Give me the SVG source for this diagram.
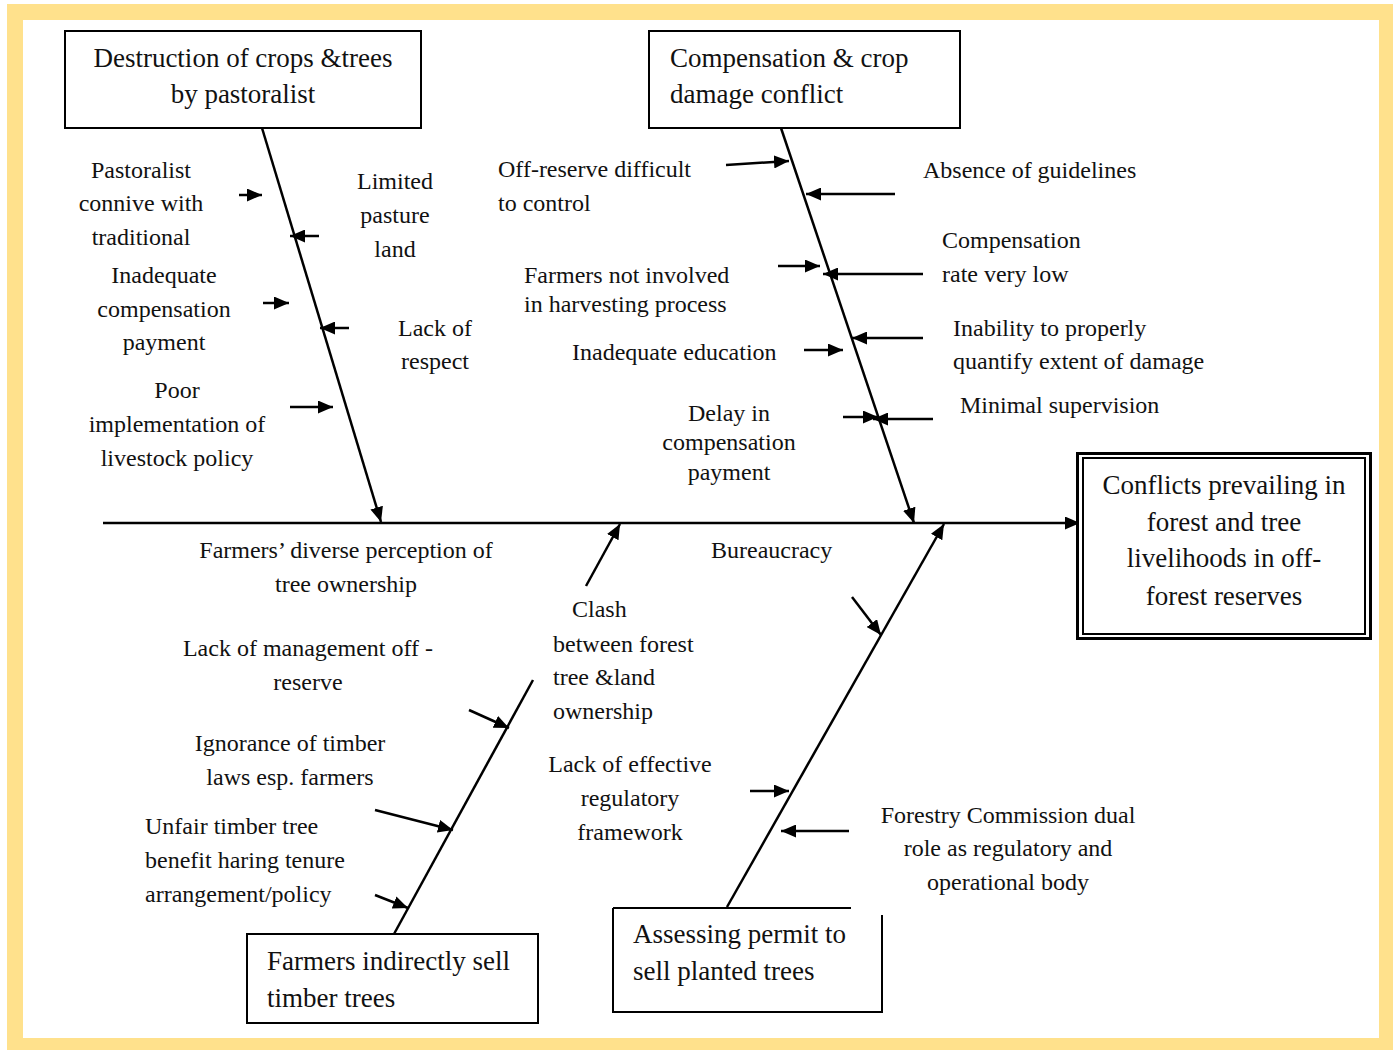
<svg xmlns="http://www.w3.org/2000/svg" width="1393" height="1050" viewBox="0 0 1393 1050">
<defs>
<marker id="ah" viewBox="0 0 15 13" refX="15" refY="6.5" markerWidth="15" markerHeight="13" markerUnits="userSpaceOnUse" orient="auto">
<path d="M0,0 L15,6.5 L0,13 z" fill="#000"/>
</marker>
<style>
.t{font-family:"Liberation Serif","Times New Roman",serif;font-size:24px;fill:#111}
.b{font-family:"Liberation Serif","Times New Roman",serif;font-size:27px;fill:#111}
.m{text-anchor:middle}
.box{fill:#fff;stroke:#000;stroke-width:2}
.ln{stroke:#000;stroke-width:2.5;fill:none}
.ar{stroke:#000;stroke-width:2.5;fill:none;marker-end:url(#ah)}
</style>
</defs>
<rect x="7" y="4" width="1386" height="1046" fill="#FFE18C"/>
<rect x="23" y="20" width="1356" height="1018" fill="#fff"/>

<g id="connectors">
<line class="ar" x1="103" y1="523" x2="1080" y2="523"/>
<line class="ar" x1="262" y1="128" x2="381" y2="522"/>
<line class="ar" x1="781" y1="128" x2="914" y2="523"/>
<line class="ln" x1="394" y1="934" x2="533" y2="680"/>
<line class="ar" x1="586" y1="586" x2="620" y2="524"/>
<line class="ar" x1="727" y1="907" x2="944" y2="524"/>
<line class="ar" x1="239" y1="195" x2="262" y2="195"/>
<line class="ar" x1="319" y1="236" x2="290" y2="236"/>
<line class="ar" x1="263" y1="303" x2="289" y2="303"/>
<line class="ar" x1="349" y1="328" x2="320" y2="328"/>
<line class="ar" x1="290" y1="407" x2="333" y2="407"/>
<line class="ar" x1="726" y1="165" x2="789" y2="161"/>
<line class="ar" x1="895" y1="194" x2="806" y2="194"/>
<line class="ar" x1="778" y1="266" x2="820" y2="266"/>
<line class="ar" x1="923" y1="274" x2="823" y2="274"/>
<line class="ar" x1="923" y1="338" x2="852" y2="338"/>
<line class="ar" x1="804" y1="350" x2="843" y2="350"/>
<line class="ar" x1="843" y1="417" x2="878" y2="417"/>
<line class="ar" x1="933" y1="419" x2="873" y2="419"/>
<line class="ar" x1="469" y1="710" x2="509" y2="728"/>
<line class="ar" x1="375" y1="810" x2="453" y2="830"/>
<line class="ar" x1="375" y1="895" x2="408" y2="908"/>
<line class="ar" x1="852" y1="597" x2="881" y2="635"/>
<line class="ar" x1="750" y1="791" x2="789" y2="791"/>
<line class="ar" x1="849" y1="831" x2="781" y2="831"/>
</g>

<g id="node-destruction">
<rect class="box" x="65" y="31" width="356" height="97"/>
<text class="b m" x="243" y="67">Destruction of crops &amp;trees</text>
<text class="b m" x="243" y="103">by pastoralist</text>
</g>
<g id="node-compensation">
<rect class="box" x="649" y="31" width="311" height="97"/>
<text class="b" x="670" y="67">Compensation &amp; crop</text>
<text class="b" x="670" y="103">damage conflict</text>
</g>
<g id="node-farmers-sell">
<rect class="box" x="247" y="934" width="291" height="89"/>
<text class="b" x="267" y="970">Farmers indirectly sell</text>
<text class="b" x="267" y="1007">timber trees</text>
</g>
<g id="node-permit">
<rect x="613" y="908" width="269" height="104" fill="#fff"/>
<path d="M613,908 L851,908 M882,915 L882,1012 L613,1012 L613,908" fill="none" stroke="#000" stroke-width="2"/>
<text class="b" x="633" y="943">Assessing permit to</text>
<text class="b" x="633" y="980">sell planted trees</text>
</g>
<g id="node-head">
<rect x="1077.5" y="453.5" width="293" height="185" fill="#fff" stroke="#000" stroke-width="3"/>
<rect x="1083" y="458" width="282" height="176" fill="none" stroke="#000" stroke-width="2"/>
<text class="b m" x="1224" y="494">Conflicts prevailing in</text>
<text class="b m" x="1224" y="531">forest and tree</text>
<text class="b m" x="1224" y="567">livelihoods in off-</text>
<text class="b m" x="1224" y="605">forest reserves</text>
</g>

<g id="labels">
<text class="t m" x="141" y="178">Pastoralist</text>
<text class="t m" x="141" y="211">connive with</text>
<text class="t m" x="141" y="245">traditional</text>
<text class="t m" x="395" y="189">Limited</text>
<text class="t m" x="395" y="223">pasture</text>
<text class="t m" x="395" y="257">land</text>
<text class="t m" x="164" y="283">Inadequate</text>
<text class="t m" x="164" y="317">compensation</text>
<text class="t m" x="164" y="350">payment</text>
<text class="t m" x="435" y="336">Lack of</text>
<text class="t m" x="435" y="369">respect</text>
<text class="t m" x="177" y="398">Poor</text>
<text class="t m" x="177" y="432">implementation of</text>
<text class="t m" x="177" y="466">livestock policy</text>

<text class="t" x="498" y="177">Off-reserve difficult</text>
<text class="t" x="498" y="211">to control</text>
<text class="t" x="923" y="178">Absence of guidelines</text>
<text class="t" x="942" y="248">Compensation</text>
<text class="t" x="942" y="282">rate very low</text>
<text class="t" x="524" y="283">Farmers not involved</text>
<text class="t" x="524" y="312">in harvesting process</text>
<text class="t" x="953" y="336">Inability to properly</text>
<text class="t" x="953" y="369">quantify extent of damage</text>
<text class="t" x="572" y="360">Inadequate education</text>
<text class="t" x="960" y="413">Minimal supervision</text>
<text class="t m" x="729" y="421">Delay in</text>
<text class="t m" x="729" y="450">compensation</text>
<text class="t m" x="729" y="480">payment</text>

<text class="t m" x="346" y="558">Farmers’ diverse perception of</text>
<text class="t m" x="346" y="592">tree ownership</text>
<text class="t" x="711" y="558">Bureaucracy</text>
<text class="t" x="572" y="617">Clash</text>
<text class="t" x="553" y="652">between forest</text>
<text class="t" x="553" y="685">tree &amp;land</text>
<text class="t" x="553" y="719">ownership</text>
<text class="t m" x="308" y="656">Lack of management off -</text>
<text class="t m" x="308" y="690">reserve</text>
<text class="t m" x="290" y="751">Ignorance of timber</text>
<text class="t m" x="290" y="785">laws esp. farmers</text>
<text class="t m" x="630" y="772">Lack of effective</text>
<text class="t m" x="630" y="806">regulatory</text>
<text class="t m" x="630" y="840">framework</text>
<text class="t" x="145" y="834">Unfair timber tree</text>
<text class="t" x="145" y="868">benefit haring tenure</text>
<text class="t" x="145" y="902">arrangement/policy</text>
<text class="t m" x="1008" y="823">Forestry Commission dual</text>
<text class="t m" x="1008" y="856">role as regulatory and</text>
<text class="t m" x="1008" y="890">operational body</text>
</g>
</svg>
